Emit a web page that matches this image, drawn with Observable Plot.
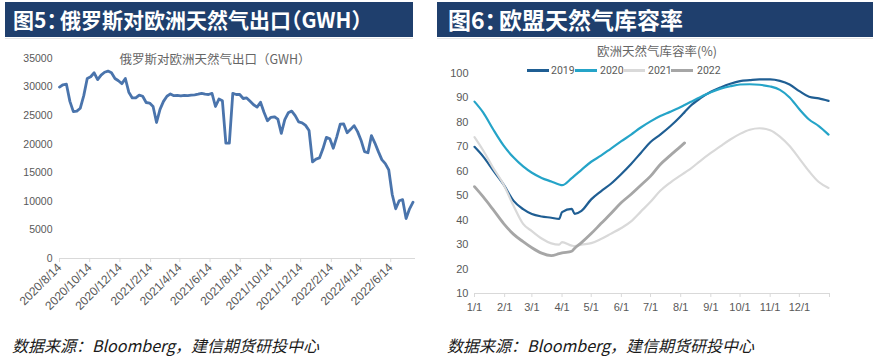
<!DOCTYPE html>
<html><head><meta charset="utf-8">
<script src="https://cdn.jsdelivr.net/npm/d3@7"></script>
<script src="https://cdn.jsdelivr.net/npm/@observablehq/plot@0.6"></script>
<style>
html,body{margin:0;padding:0;background:#fff;}
body{width:873px;height:360px;overflow:hidden;position:relative;font-family:"Noto Sans CJK SC","Noto Sans",sans-serif;}
.hdr{position:absolute;top:2px;height:35px;background:#1f3f6d;color:#fff;font-weight:bold;line-height:35px;white-space:nowrap;box-sizing:border-box;font-feature-settings:"halt";}
.hdr .c{margin-right:3px;}
.sep{position:absolute;top:38px;height:1px;background:#e6e6e6;}
.sub{position:absolute;font-size:12.5px;color:#666;white-space:nowrap;transform:translate(-50%,-50%);}
.foot{position:absolute;top:335px;font-size:16px;font-style:italic;color:#1a1a1a;white-space:nowrap;line-height:20px;}
.chart{position:absolute;}
.lg{position:absolute;font-family:Roboto,"Liberation Sans",sans-serif;font-size:10.5px;color:#595959;line-height:12px;}
.lgline{position:absolute;height:3px;}
</style>
</head><body>
<div class="hdr" style="left:5px;width:408px;padding-left:8px;font-size:21px;">图5<span class="c">：</span>俄罗斯对欧洲天然气出口（GWH）</div>
<div class="hdr" style="left:437px;width:436px;padding-left:11px;font-size:23px;">图6<span class="c">：</span>欧盟天然气库容率</div>
<div class="sep" style="left:5px;width:408px;"></div>
<div class="sep" style="left:437px;width:436px;"></div>
<div class="sub" style="left:215px;top:58px;">俄罗斯对欧洲天然气出口（GWH）</div>
<div class="sub" style="left:657px;top:50px;">欧洲天然气库容率(%)</div>
<div id="left" class="chart" style="left:0;top:40px;"></div>
<div id="right" class="chart" style="left:435px;top:60px;"></div>
<div id="legend"></div>
<div class="foot" style="left:12px;">数据来源：Bloomberg，建信期货研投中心</div>
<div class="foot" style="left:447px;">数据来源：Bloomberg，建信期货研投中心</div>
<script>
// ---------- Figure 5: Russia gas export to Europe (GWH), weekly from 2020/8/14 ----------
const exportStart = "2020/8/14";
const exportValues = [
  30000, 30400, 30500, 27500, 25700, 25800, 26300, 28500, 31500, 31800,
  32500, 31300, 32100, 32600, 32800, 32500, 31500, 31100, 30600, 31500,
  29100, 28100, 28100, 28600, 28400, 27300, 27200, 26600, 23800, 26100,
  27500, 28400, 28800, 28500, 28550, 28450, 28550, 28500, 28600, 28650,
  28750, 28900, 28750, 28700, 28900, 26600, 27900, 27600, 20200, 20200,
  28900, 28700, 28700, 28000, 28100, 27500, 26900, 26500, 27350, 25600,
  24100, 24700, 24800, 24400, 21900, 24300, 25500, 25800, 25000, 23900,
  23750, 23300, 22400, 16900, 17400, 17600, 19200, 21200, 20950, 19300,
  21300, 23500, 23550, 22000, 22600, 23250, 22200, 20700, 18700, 18500,
  21500, 20200, 18700, 17300, 16600, 15500, 11200, 8700, 10100, 10300,
  7000, 8700, 9850
];
const exportTickLabels = ["2020/8/14","2020/10/14","2020/12/14","2021/2/14","2021/4/14","2021/6/14",
  "2021/8/14","2021/10/14","2021/12/14","2022/2/14","2022/4/14","2022/6/14"];
const exportAxisEnd = "2022/8/3";
const exportYTicks = [0, 5000, 10000, 15000, 20000, 25000, 30000, 35000];

// ---------- Figure 6: EU gas storage rate (%) ----------
const storageDates = ["1/1","1/10","1/20","1/31","2/10","2/20","3/1","3/11","3/21","3/29","4/1","4/11","4/14","4/21",
  "5/1","5/11","5/21","6/1","6/11","6/21","7/1","7/11","7/21","8/1","8/5","8/11","8/21","9/1","9/11","9/21",
  "10/1","10/11","10/21","11/1","11/11","11/21","12/1","12/11","12/21","12/31"];
const storage2019 = [70, 66, 60.5, 54.5, 48, 44.5, 42.5, 41.5, 41, 40.5, 43.3, 44.6, 42.6, 43.8,
  48.5, 51.8, 54.8, 58.9, 63, 67.5, 72, 75, 78.3, 82.5, 84.2, 86.7, 89.8, 92.5, 94.3, 95.8,
  96.9, 97.3, 97.6, 97.6, 97, 95.5, 92.8, 90.5, 89.8, 88.8];
const storage2020 = [88.5, 84, 77.3, 70.5, 65.7, 62, 59.4, 57.3, 55.8, 54.6, 54.3, 57.2, 58.2, 60.6,
  63.9, 66.4, 69.2, 72.3, 75, 77.9, 80.4, 82.6, 84.3, 86.3, 87.1, 88.3, 90.3, 92.3, 93.8, 94.8,
  95.5, 95.6, 95.4, 94.7, 93.3, 90.2, 85.4, 81.2, 78.5, 75];
const storage2021 = [74, 68.5, 61.5, 54.5, 46, 38.5, 35.5, 32.5, 30.5, 30.0, 31.0, 29.6, 29.4, 30,
  30.6, 32.3, 34.4, 36.8, 39.5, 43.5, 47.5, 52, 55.3, 58.3, 59.4, 61, 64.2, 67.5, 70.3, 73,
  75.3, 77, 77.6, 76.8, 74.2, 70.3, 65.2, 60, 55.6, 53.2];
const storage2022 = [53.7, 49.5, 44.4, 38.6, 34.3, 31.2, 28.7, 26.5, 25.5, 26.3, 26.6, 27.3, 28.5, 30.8,
  34.5, 38.6, 42.6, 47.2, 50.6, 54.3, 58, 62.8, 66.4, 70.2, 71.6, null, null, null, null, null,
  null, null, null, null, null, null, null, null, null, null];
const storageYears = ["2019", "2020", "2021", "2022"];
const storageColors = ["#1f5e93", "#25a4c8", "#d9d9d9", "#a6a6a6"];
const storageTickLabels = ["1/1","2/1","3/1","4/1","5/1","6/1","7/1","8/1","9/1","10/1","11/1","12/1"];
const storageYTicks = [10, 20, 30, 40, 50, 60, 70, 80, 90, 100];

// ---------- helpers ----------
const parseYMD = s => { const [y, m, d] = s.split("/").map(Number); return new Date(Date.UTC(y, m - 1, d)); };
const parseMD = s => { const [m, d] = s.split("/").map(Number); return new Date(Date.UTC(2021, m - 1, d)); };

// ---------- left chart ----------
const start = parseYMD(exportStart);
const exportData = exportValues.map((v, i) => ({date: new Date(+start + i * 7 * 864e5), value: v}));
const exportTicks = exportTickLabels.map(parseYMD);
const exportLabelMap = new Map(exportTicks.map((d, i) => [+d, exportTickLabels[i]]));

const left = Plot.plot({
  width: 430, height: 290,
  marginTop: 18, marginBottom: 72, marginLeft: 59, marginRight: 15,
  style: {background: "transparent", fontFamily: "'Liberation Sans', Arial, sans-serif", overflow: "visible"},
  x: {type: "utc", domain: [start, parseYMD(exportAxisEnd)]},
  y: {domain: [0, 35000]},
  marks: [
    Plot.ruleY([0], {stroke: "#d9d9d9"}),
    Plot.axisY({ticks: exportYTicks, tickSize: 0, tickPadding: 7, label: null, fill: "#595959", fontSize: 10.5, tickFormat: d => String(d)}),
    Plot.axisX({ticks: exportTicks, tickFormat: d => exportLabelMap.get(+d), tickRotate: -45, tickSize: 4, tickPadding: 3,
      stroke: "#d9d9d9", fill: "#595959", label: null, fontSize: 12}),
    Plot.lineY(exportData, {x: "date", y: "value", stroke: "#4a74ac", strokeWidth: 2.8})
  ]
});
document.getElementById("left").appendChild(left);

// ---------- right chart ----------
const storageSeries = [storage2019, storage2020, storage2021, storage2022];
const storageData = storageSeries.flatMap((vals, k) =>
  storageDates.map((md, i) => ({date: parseMD(md), value: vals[i], year: storageYears[k]})).filter(d => d.value != null));
const storageTicks = storageTickLabels.map(parseMD).concat([new Date(Date.UTC(2022, 0, 1))]);
const storageLabelMap = new Map(storageTickLabels.map(s => [+parseMD(s), s]));
const widths = [2.2, 2.2, 2.2, 2.8];

const right = Plot.plot({
  width: 438, height: 270,
  marginTop: 13, marginBottom: 37, marginLeft: 39, marginRight: 44,
  style: {background: "transparent", fontFamily: "'Liberation Sans', Arial, sans-serif", overflow: "visible"},
  x: {type: "utc", domain: [new Date(Date.UTC(2021, 0, 1)), new Date(Date.UTC(2022, 0, 1))]},
  y: {domain: [10, 100]},
  marks: [
    Plot.ruleY([10], {stroke: "#d9d9d9"}),
    Plot.axisY({ticks: storageYTicks, tickSize: 0, tickPadding: 6, label: null, fill: "#595959", fontSize: 11}),
    Plot.axisX({ticks: storageTicks, tickFormat: d => storageLabelMap.get(+d) || "", tickSize: 4, tickPadding: 6,
      stroke: "#d9d9d9", fill: "#595959", label: null, fontSize: 11}),
    ...storageYears.map((y, k) => Plot.lineY(storageData.filter(d => d.year === y),
      {x: "date", y: "value", stroke: storageColors[k], strokeWidth: widths[k], curve: "monotone-x"}))
  ]
});
document.getElementById("right").appendChild(right);

// ---------- legend ----------
const legendPos = [[527, 551], [575, 600], [623, 648], [671, 697]];
const lg = document.getElementById("legend");
storageYears.forEach((y, k) => {
  const line = document.createElement("div");
  line.className = "lgline";
  line.style.cssText = `left:${legendPos[k][0]}px;top:69px;width:22px;background:${storageColors[k]};`;
  lg.appendChild(line);
  const t = document.createElement("div");
  t.className = "lg";
  t.style.cssText = `left:${legendPos[k][1]}px;top:64.5px;`;
  t.textContent = y;
  lg.appendChild(t);
});
</script>
</body></html>
